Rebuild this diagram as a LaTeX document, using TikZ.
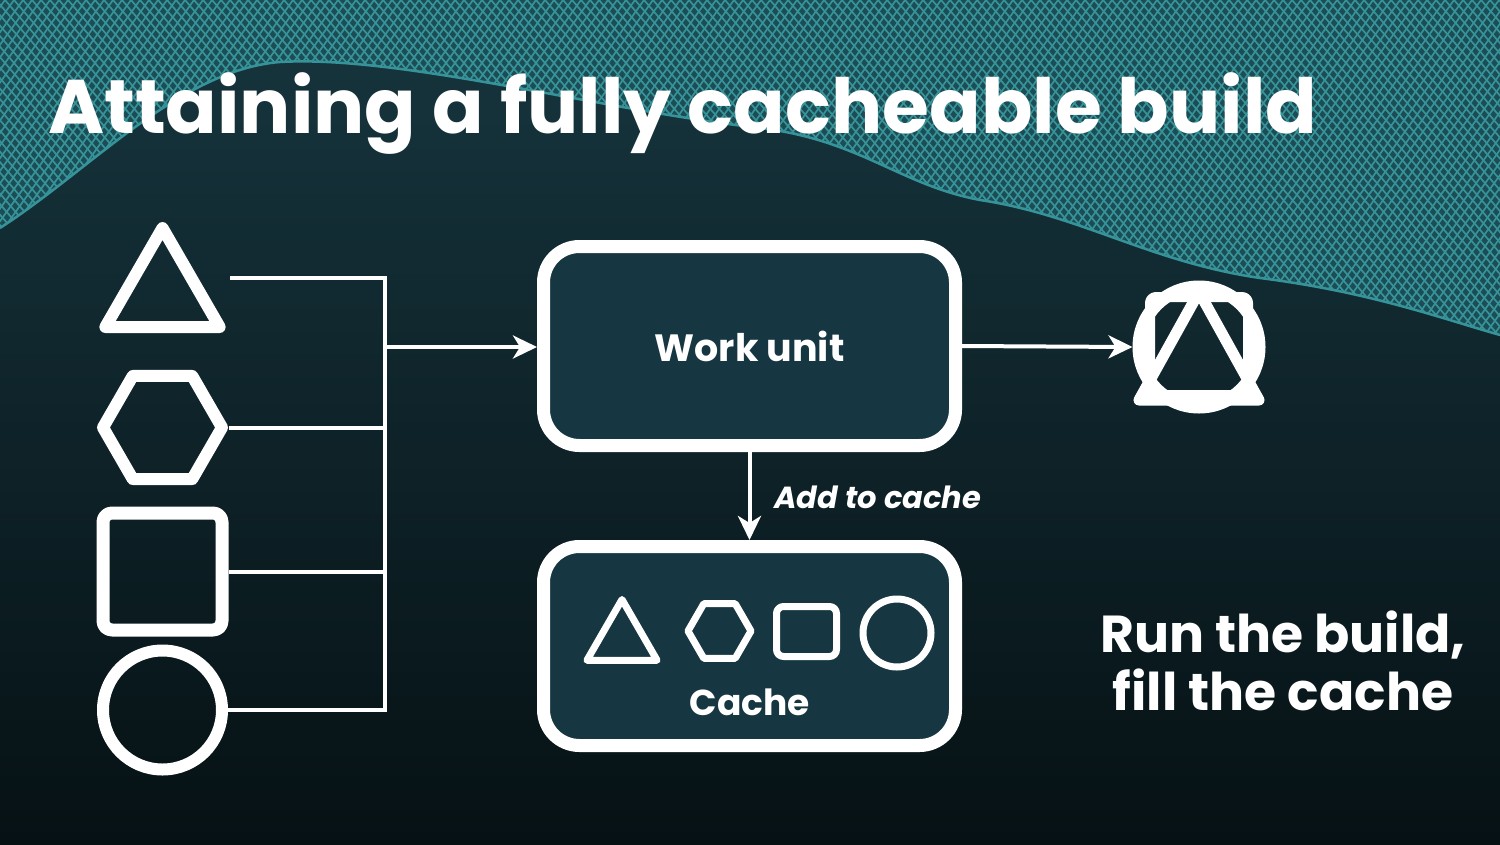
\documentclass[tikz,border=0pt]{standalone}
\usepackage{fontspec}
\setmainfont{Poppins}
\usetikzlibrary{positioning}
\usetikzlibrary{shapes.geometric}
\usetikzlibrary{arrows.meta}
\definecolor{bgtop}{HTML}{17363F}
\definecolor{bgbot}{HTML}{061114}
\definecolor{boxfill}{HTML}{163641}
\definecolor{meshbase}{HTML}{1C4C54}
\definecolor{meshline}{HTML}{359399}
\newcommand{\wavepath}{(0,228) .. controls (90,170) and (180,70) .. (280,62)
  .. controls (400,55) and (600,110) .. (760,128)
  .. controls (860,140) and (900,185) .. (980,200)
  .. controls (1080,215) and (1150,262) .. (1260,278)
  .. controls (1370,292) and (1440,318) .. (1500,335)}

\begin{document}
\begin{tikzpicture}[
x=1pt, y=-1pt,
every node/.style={text=white, inner sep=0},
wire/.style={draw=white, line width=4pt},
arrow/.style={wire, -{Stealth[length=24pt, width=23pt, inset=7pt]}},
shapeline/.style={draw=white, line width=12pt, line join=round},
smallshape/.style={draw=white, line width=7pt, line join=round},
box/.style={draw=white, line width=13pt, fill=boxfill, rounded corners=36pt,
  minimum width=412pt, minimum height=199pt},
boxtext/.style={font=\bfseries\fontsize{36}{40}\selectfont}
]
\useasboundingbox (0,0) rectangle (1500,844);
\shade[top color=bgtop, bottom color=bgbot] (0,0) rectangle (1500,844);

\begin{scope}
\clip (0,0) -- \wavepath -- (1500,0) -- cycle;
\fill[meshbase] (0,0) rectangle (1500,340);
\foreach \i in {-400,-391,...,1900}
  \draw[meshline, line width=1.7pt] (\i,0) -- ++(-250,350);
\foreach \i in {-400,-391,...,1900}
  \draw[meshline, line width=1.7pt] (\i,0) -- ++(300,350);
\end{scope}
\draw[meshline, line width=2.5pt] \wavepath;

\node[anchor=base west, font=\bfseries\fontsize{76}{88}\selectfont] (title) at (48,133) {Attaining a fully cacheable build};

\node[shapeline, regular polygon, regular polygon sides=3, minimum size=132pt] (intri) at (162.5,294) {};
\node[shapeline, regular polygon, regular polygon sides=6, minimum size=119pt] (inhex) at (162.5,427.5) {};
\node[shapeline, line width=13pt, rectangle, rounded corners=9pt, minimum width=119pt, minimum height=117pt] (insq) at (162.5,571.5) {};
\node[shapeline, circle, minimum size=119pt] (incirc) at (162.5,710) {};

\coordinate (tri out) at (230,278);
\coordinate (trunk) at (385,347);
\draw[wire] (tri out) -| (trunk) |- (incirc.east);
\draw[wire] (inhex.east) -- (inhex.east -| trunk);
\draw[wire] (insq.east) -- (insq.east -| trunk);

\node[box, boxtext, font=\bfseries\fontsize{38}{42}\selectfont] (work) at (749.5,346) {Work unit};
\node[box, below=88pt of work] (cache) {};
\node[boxtext] (cachelbl) at (750,702) {Cache};

\node[smallshape, regular polygon, regular polygon sides=3, minimum size=81pt] (ctri) at (622,640) {};
\node[smallshape, regular polygon, regular polygon sides=6, minimum size=63pt] (chex) at (719.5,631) {};
\node[smallshape, rectangle, rounded corners=7pt, minimum width=60pt, minimum height=50pt] (csq) at (806.5,631.5) {};
\node[smallshape, circle, minimum size=68pt] (ccirc) at (897,633) {};

\node[shapeline, line width=13pt, circle, minimum size=120pt] (outsym) at (1199,347) {};
\draw[shapeline, line width=10pt, rounded corners=6pt] (1150,297) rectangle (1248,395);
\draw[shapeline, line width=11pt] (1199,292) -- (1139,400) -- (1259,400) -- cycle;

\draw[arrow] (trunk) -- (trunk -| work.west);
\draw[arrow] (work.east) -- (outsym.west);
\draw[arrow] (work) -- (cache);
\node[anchor=west, font=\bfseries\itshape\fontsize{30.5}{36}\selectfont] (addlbl) at (774,497) {Add to cache};

\node[align=center, font=\bfseries\fontsize{52}{58}\selectfont] (runlbl) at (1283,661) {Run the build,\\fill the cache};
\end{tikzpicture}
\end{document}
